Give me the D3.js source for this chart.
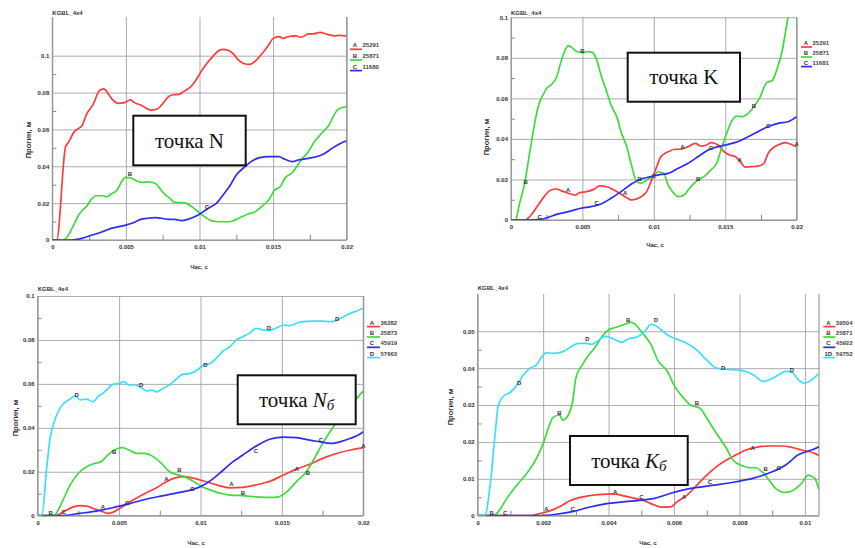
<!DOCTYPE html>
<html>
<head>
<meta charset="utf-8">
<script src="https://cdn.jsdelivr.net/npm/d3@7"></script>
<style>
body { margin: 0; background: #fff; }
svg text { font-family: "Liberation Sans", Arial, sans-serif; }
</style>
</head>
<body>
<svg id="chart" width="855" height="548"></svg>
<script>
// ---- data: [time, deflection] ----
const nA = [[0,0],[0.0003,0],[0.0009,0.0506],[0.0011,0.053],[0.0015,0.0588],[0.0018,0.0606],[0.002,0.0618],[0.0023,0.0678],[0.0028,0.074],[0.0032,0.081],[0.0035,0.082],[0.0037,0.0805],[0.004,0.077],[0.0045,0.0741],[0.0049,0.0745],[0.0053,0.076],[0.0056,0.0745],[0.0061,0.0729],[0.0065,0.071],[0.0067,0.0705],[0.0072,0.0714],[0.0075,0.074],[0.0079,0.0778],[0.0082,0.0788],[0.0086,0.079],[0.0089,0.0805],[0.0091,0.0814],[0.0095,0.084],[0.0099,0.0886],[0.0101,0.0913],[0.0105,0.0958],[0.0109,0.0995],[0.0113,0.1027],[0.0116,0.1034],[0.012,0.1027],[0.0123,0.101],[0.0126,0.098],[0.013,0.0958],[0.0134,0.0953],[0.0139,0.098],[0.0143,0.1016],[0.0147,0.1058],[0.015,0.1094],[0.0154,0.1103],[0.0157,0.1094],[0.016,0.1103],[0.0165,0.1108],[0.0169,0.11],[0.0174,0.1118],[0.0177,0.1118],[0.0182,0.1127],[0.0186,0.1118],[0.0192,0.1107],[0.0195,0.111],[0.02,0.1108]];
const nB = [[0,0],[0.00075,0],[0.0011,0.0027],[0.0014,0.0072],[0.0018,0.0136],[0.0021,0.0166],[0.0023,0.018],[0.0027,0.0226],[0.003,0.024],[0.0034,0.024],[0.0037,0.0235],[0.004,0.025],[0.0044,0.0271],[0.0047,0.0316],[0.005,0.034],[0.0054,0.0335],[0.0057,0.0322],[0.0061,0.0313],[0.0065,0.0315],[0.007,0.0307],[0.0073,0.028],[0.0077,0.0244],[0.008,0.0226],[0.0083,0.0204],[0.0088,0.0203],[0.0091,0.0199],[0.0095,0.018],[0.0099,0.0154],[0.0104,0.0123],[0.0108,0.0105],[0.0113,0.0099],[0.012,0.0099],[0.0124,0.0108],[0.0129,0.0127],[0.0133,0.0141],[0.0138,0.0154],[0.0142,0.018],[0.0147,0.0217],[0.0151,0.0271],[0.0155,0.029],[0.0158,0.0335],[0.0163,0.0365],[0.0166,0.0398],[0.0169,0.0434],[0.0174,0.0479],[0.0178,0.0533],[0.0183,0.0579],[0.0188,0.0624],[0.0192,0.0687],[0.0195,0.0714],[0.02,0.0723]];
const nC = [[0,0],[0.0013,0],[0.002,0.0009],[0.0027,0.0027],[0.0034,0.0045],[0.004,0.0063],[0.005,0.0081],[0.0055,0.0094],[0.006,0.0112],[0.0065,0.0118],[0.007,0.0121],[0.0074,0.0118],[0.0079,0.0112],[0.0083,0.0112],[0.0088,0.0105],[0.0092,0.0112],[0.0097,0.0127],[0.0101,0.0145],[0.0106,0.0172],[0.0112,0.0203],[0.0116,0.0244],[0.0121,0.0298],[0.0125,0.0353],[0.0131,0.0398],[0.0135,0.0425],[0.0141,0.0447],[0.0147,0.0452],[0.0154,0.0452],[0.0158,0.0438],[0.0163,0.0425],[0.0167,0.0434],[0.0174,0.0443],[0.0181,0.0456],[0.0185,0.047],[0.019,0.0497],[0.0195,0.0521],[0.02,0.0539]];

const kA = [[0,0],[0.001,0],[0.0013,0.0016],[0.0019,0.0074],[0.0024,0.0123],[0.0028,0.0148],[0.0032,0.0153],[0.0035,0.0145],[0.004,0.0132],[0.0045,0.0123],[0.0048,0.0135],[0.0053,0.014],[0.0058,0.0151],[0.0062,0.0168],[0.0067,0.0164],[0.0072,0.0148],[0.0076,0.0132],[0.0081,0.011],[0.0084,0.0099],[0.0088,0.0104],[0.0091,0.0115],[0.0095,0.014],[0.0098,0.0189],[0.0102,0.0263],[0.0105,0.0313],[0.011,0.0337],[0.0115,0.0349],[0.0119,0.0349],[0.0124,0.0362],[0.0129,0.0378],[0.0133,0.0365],[0.0137,0.037],[0.014,0.0382],[0.0145,0.037],[0.0149,0.0337],[0.0153,0.0321],[0.0157,0.0313],[0.0161,0.0283],[0.0164,0.026],[0.0168,0.0263],[0.0173,0.0266],[0.0177,0.028],[0.018,0.0329],[0.0184,0.0359],[0.0188,0.0373],[0.0192,0.0382],[0.0197,0.037],[0.02,0.0362]];
const kB = [[0,0],[0.0003,0],[0.0006,0.0082],[0.001,0.0197],[0.0013,0.0329],[0.0017,0.0493],[0.0019,0.0559],[0.0023,0.0625],[0.0025,0.065],[0.0028,0.0666],[0.0032,0.0707],[0.0035,0.0781],[0.0038,0.0839],[0.004,0.086],[0.0042,0.0855],[0.0046,0.0831],[0.0051,0.0826],[0.0054,0.0831],[0.0057,0.0827],[0.006,0.079],[0.0063,0.0715],[0.0067,0.0633],[0.007,0.0567],[0.0074,0.051],[0.0077,0.0436],[0.0081,0.0362],[0.0084,0.028],[0.0088,0.0189],[0.0091,0.0181],[0.0095,0.0197],[0.01,0.0219],[0.0103,0.0238],[0.0107,0.023],[0.011,0.0173],[0.0114,0.0132],[0.0117,0.0115],[0.0121,0.0123],[0.0124,0.0148],[0.0128,0.0181],[0.0131,0.0197],[0.0136,0.0219],[0.014,0.0247],[0.0144,0.028],[0.0147,0.0345],[0.0151,0.0428],[0.0155,0.0493],[0.0158,0.0513],[0.0162,0.051],[0.0166,0.0526],[0.017,0.0559],[0.0174,0.06],[0.0179,0.0678],[0.0183,0.0688],[0.0186,0.074],[0.019,0.0839],[0.0192,0.0921],[0.0194,0.1003],[0.0196,0.108]];
const kC = [[0,0],[0.0012,0],[0.0021,0.0003],[0.0026,0.0013],[0.0033,0.003],[0.004,0.0041],[0.0049,0.0058],[0.0056,0.0066],[0.0063,0.0079],[0.007,0.0107],[0.0077,0.014],[0.0084,0.0176],[0.0091,0.0202],[0.0098,0.0214],[0.0105,0.0225],[0.011,0.023],[0.0117,0.0255],[0.0124,0.028],[0.0131,0.0313],[0.0138,0.0345],[0.0145,0.0362],[0.0152,0.0373],[0.0159,0.0387],[0.0166,0.0411],[0.0173,0.0436],[0.018,0.0461],[0.0187,0.0477],[0.0194,0.0485],[0.02,0.051]];

const nbA = [[0,0],[0.0011,0],[0.0016,0.0018],[0.0021,0.0038],[0.0026,0.0046],[0.003,0.0044],[0.0035,0.003],[0.0039,0.0021],[0.0043,0.0011],[0.0046,0.0015],[0.0051,0.0036],[0.0055,0.0056],[0.0061,0.0082],[0.0067,0.0106],[0.0073,0.0127],[0.0079,0.0155],[0.0085,0.0173],[0.009,0.0178],[0.0096,0.017],[0.0102,0.0158],[0.011,0.014],[0.0118,0.0127],[0.0126,0.0129],[0.0134,0.014],[0.0143,0.0158],[0.0151,0.0185],[0.0159,0.0212],[0.0167,0.0234],[0.0175,0.0261],[0.0184,0.0284],[0.0192,0.0299],[0.02,0.031]];
const nbB = [[0,0],[0.001,0],[0.0012,0.0018],[0.0016,0.0079],[0.002,0.014],[0.0025,0.0193],[0.003,0.0223],[0.0035,0.0238],[0.0039,0.0246],[0.0043,0.0276],[0.0047,0.0299],[0.0052,0.031],[0.0056,0.0299],[0.0061,0.0284],[0.0066,0.0284],[0.0071,0.0269],[0.0076,0.0238],[0.0081,0.02],[0.0085,0.0188],[0.009,0.0178],[0.0096,0.0155],[0.0101,0.0132],[0.0106,0.0117],[0.0112,0.0102],[0.0118,0.0094],[0.0126,0.0091],[0.0134,0.0086],[0.0143,0.0083],[0.0148,0.0086],[0.0153,0.0109],[0.0159,0.0155],[0.0165,0.02],[0.017,0.0261],[0.0175,0.0329],[0.0181,0.0398],[0.0186,0.0451],[0.0192,0.0504],[0.0196,0.0534],[0.02,0.0568]];
const nbC = [[0,0],[0.0014,0],[0.0026,0.0011],[0.0036,0.0021],[0.0046,0.0036],[0.0057,0.0056],[0.0067,0.0076],[0.0077,0.0091],[0.0087,0.0106],[0.0096,0.0121],[0.0102,0.014],[0.0108,0.017],[0.0114,0.0208],[0.012,0.0246],[0.0126,0.0276],[0.0132,0.0307],[0.0139,0.0337],[0.0143,0.0349],[0.0151,0.0358],[0.0159,0.0355],[0.0167,0.0344],[0.0173,0.0337],[0.018,0.0329],[0.0186,0.0337],[0.0192,0.0352],[0.0197,0.0367],[0.02,0.0382]];
const nbD = [[0,0],[0.00025,0],[0.00055,0.0215],[0.00076,0.0352],[0.00096,0.0413],[0.0013,0.0481],[0.0016,0.0511],[0.002,0.0531],[0.0023,0.0546],[0.0026,0.0527],[0.003,0.0531],[0.0034,0.0519],[0.0037,0.0542],[0.004,0.0557],[0.0043,0.0577],[0.0046,0.0598],[0.005,0.0602],[0.0053,0.061],[0.0056,0.0595],[0.006,0.0595],[0.0064,0.058],[0.0067,0.0568],[0.007,0.0572],[0.0073,0.0564],[0.0077,0.058],[0.0081,0.0595],[0.0085,0.0621],[0.0089,0.0643],[0.0094,0.0648],[0.0098,0.0663],[0.0102,0.0686],[0.0106,0.0693],[0.011,0.0719],[0.0114,0.075],[0.0118,0.0769],[0.0122,0.08],[0.0126,0.0815],[0.013,0.083],[0.0134,0.0853],[0.0139,0.0845],[0.0143,0.0845],[0.0147,0.0856],[0.0151,0.0868],[0.0155,0.0865],[0.0159,0.0876],[0.0163,0.0883],[0.0169,0.0886],[0.0175,0.0886],[0.018,0.0883],[0.0184,0.0891],[0.0188,0.0906],[0.0192,0.0921],[0.0196,0.0932],[0.02,0.0944]];

const kbA = [[0,0],[0.0016,0],[0.0019,0.0006],[0.0022,0.0013],[0.0025,0.0024],[0.0028,0.004],[0.0031,0.0049],[0.0034,0.0054],[0.0038,0.0058],[0.0041,0.0059],[0.0045,0.0053],[0.0048,0.0047],[0.0051,0.004],[0.0054,0.0029],[0.0056,0.0023],[0.0059,0.0024],[0.0061,0.0038],[0.0064,0.0056],[0.0067,0.0083],[0.007,0.011],[0.0073,0.0133],[0.0076,0.0151],[0.0079,0.0165],[0.0082,0.0178],[0.0085,0.0185],[0.0089,0.0189],[0.0093,0.0189],[0.0096,0.0185],[0.0099,0.0178],[0.0103,0.0169],[0.01043,0.0163]];
const kbB = [[0,0],[0.00048,0],[0.00063,0.0011],[0.00089,0.0047],[0.0012,0.0083],[0.0015,0.0115],[0.0018,0.0156],[0.002,0.0196],[0.00216,0.0237],[0.0023,0.0266],[0.0025,0.0273],[0.0026,0.0259],[0.0027,0.0264],[0.0029,0.0309],[0.003,0.0373],[0.0032,0.0409],[0.0034,0.0436],[0.0036,0.0458],[0.0038,0.0486],[0.004,0.0504],[0.0042,0.051],[0.0045,0.0519],[0.0047,0.0524],[0.0048,0.052],[0.005,0.0499],[0.0053,0.0463],[0.0055,0.0422],[0.0058,0.0391],[0.006,0.0354],[0.0063,0.0318],[0.0065,0.03],[0.0068,0.0291],[0.007,0.0264],[0.0073,0.0223],[0.0076,0.0183],[0.0078,0.0151],[0.0081,0.0135],[0.0083,0.013],[0.0085,0.013],[0.0087,0.0118],[0.0089,0.0097],[0.0091,0.0074],[0.0094,0.0063],[0.0096,0.0067],[0.0099,0.0088],[0.0101,0.011],[0.0103,0.0101],[0.01043,0.007]];
const kbC = [[0,0],[0.0018,0],[0.0024,0.0004],[0.0029,0.0011],[0.0034,0.0023],[0.0039,0.0032],[0.0045,0.0038],[0.005,0.0042],[0.0054,0.0047],[0.0059,0.0061],[0.0064,0.0072],[0.0069,0.0079],[0.0074,0.0085],[0.0079,0.0092],[0.0084,0.0101],[0.0087,0.0109],[0.009,0.0119],[0.0094,0.0137],[0.0098,0.0165],[0.0102,0.0178],[0.01043,0.0187]];
const kbD = [[0,0],[0.00022,0],[0.00038,0.0083],[0.00053,0.0219],[0.00063,0.03],[0.00078,0.0323],[0.00099,0.0334],[0.0012,0.0354],[0.0014,0.0382],[0.0016,0.04],[0.0018,0.0409],[0.00196,0.0431],[0.0021,0.0442],[0.0023,0.044],[0.0025,0.0442],[0.0027,0.0449],[0.0029,0.0461],[0.0031,0.0467],[0.0033,0.0467],[0.0035,0.0465],[0.0037,0.0476],[0.0039,0.0486],[0.0041,0.0481],[0.0044,0.047],[0.0046,0.0479],[0.0049,0.0486],[0.0051,0.0499],[0.0053,0.0519],[0.0054,0.0517],[0.0056,0.0504],[0.0058,0.049],[0.0061,0.0478],[0.0064,0.0467],[0.0067,0.0449],[0.007,0.0422],[0.0073,0.04],[0.0076,0.0397],[0.0079,0.0395],[0.0082,0.0391],[0.0085,0.0377],[0.0087,0.0364],[0.0089,0.0368],[0.0092,0.0382],[0.0094,0.0391],[0.0096,0.0389],[0.0098,0.0368],[0.01,0.0359],[0.0102,0.0368],[0.01043,0.0386]];

// letters written along the curves: [letter, time, deflection]
const nMarks = [["B",0.00528,0.0358],["C",0.0105,0.0177]];
const kMarks = [["B",0.00103,0.0189],["C",0.002,0.0016],["A",0.004,0.0148],["B",0.005,0.0836],["C",0.006,0.0086],["A",0.008,0.0132],["B",0.009,0.0201],["C",0.01,0.0217],["A",0.012,0.0359],["B",0.0131,0.0202],["C",0.014,0.0357],["A",0.016,0.0296],["B",0.017,0.0564],["C",0.018,0.0465],["A",0.02,0.0373]];
const nbMarks = [["B",0.0008,0.0014],["C",0.0016,0.0017],["D",0.0024,0.0552],["A",0.004,0.0041],["B",0.0047,0.0291],["C",0.0055,0.0059],["D",0.00635,0.0595],["A",0.0079,0.0167],["B",0.0087,0.0208],["C",0.0095,0.012],["D",0.0103,0.0686],["A",0.0119,0.0143],["B",0.0126,0.0106],["C",0.0134,0.0296],["D",0.0142,0.0853],["A",0.0159,0.0215],["B",0.0166,0.0197],["C",0.0174,0.0344],["D",0.0184,0.0898],["A",0.02,0.0319]];
const kbMarks = [["B",0.00043,0.0008],["C",0.00084,0.0008],["D",0.00127,0.0359],["A",0.0021,0.0018],["B",0.0025,0.0278],["C",0.0029,0.0018],["D",0.00335,0.0478],["A",0.0042,0.0065],["B",0.0046,0.0531],["C",0.005,0.005],["D",0.00545,0.0531],["A",0.0063,0.0052],["B",0.0067,0.0306],["C",0.0071,0.0092],["D",0.0075,0.0402],["A",0.0084,0.0185],["B",0.0088,0.0127],["C",0.0092,0.013],["D",0.0096,0.0395]];

const nLegend = ["25291", "25871", "11680"];
const kLegend = ["25291", "25871", "11681"];
const nbLegend = ["36282", "25873", "45919", "57663"];
const kbLegend = ["39504", "25871", "45922", "59752"];
const keys = ["A", "B", "C", "D"];
const kbKeys = ["A", "B", "C", "1D"];

const xTicks20 = [0, 0.005, 0.01, 0.015, 0.02];
const xLabels20 = ["0", "0.005", "0.01", "0.015", "0.02"];
const xTicks10 = [0, 0.002, 0.004, 0.006, 0.008, 0.01];
const xLabels10 = ["0", "0.002", "0.004", "0.006", "0.008", "0.01"];
const yTicks10 = [0, 0.02, 0.04, 0.06, 0.08, 0.1];
const yLabels10 = ["0", "0.02", "0.04", "0.06", "0.08", "0.1"];
const yTicks05 = [0, 0.01, 0.02, 0.03, 0.04, 0.05];
const yLabels05 = ["0", "0.01", "0.02", "0.03", "0.04", "0.05"];

const colors = ["#ff3b3b", "#3ddc3d", "#2d2df2", "#3fdcff"];

const svg = d3.select("#chart");

const panels = [
	{ id: "n", left: 52.3, right: 346.7, top: 17, bottom: 240, xMax: 0.02, yMax: 0.121,
	  xTicks: xTicks20, xLabels: xLabels20, yTicks: yTicks10, yLabels: yLabels10,
	  series: [nA, nB, nC], marks: nMarks, legend: nLegend, keys: keys,
	  titleY: 13, xTitle: [199, 267], yTitle: [28, 140],
	  legX: 350, legY: [45, 55.7, 66.3], legW: 12,
	  box: [133.3, 115.7, 112.4, 49.6], point: "N", italic: false },
	{ id: "k", left: 511, right: 796.7, top: 17.3, bottom: 220, xMax: 0.02, yMax: 0.1,
	  xTicks: xTicks20, xLabels: xLabels20, yTicks: yTicks10, yLabels: yLabels10,
	  series: [kA, kB, kC], marks: kMarks, legend: kLegend, keys: keys,
	  titleY: 12.7, xTitle: [655, 245], yTitle: [486.7, 137],
	  legX: 801, legY: [42.7, 52.7, 62.3], legW: 11,
	  box: [627.7, 52.7, 112.3, 49], point: "K", italic: false },
	{ id: "nb", left: 37.7, right: 363.3, top: 296, bottom: 515.7, xMax: 0.02, yMax: 0.1,
	  xTicks: xTicks20, xLabels: xLabels20, yTicks: yTicks10, yLabels: yLabels10,
	  series: [nbA, nbB, nbC, nbD], marks: nbMarks, legend: nbLegend, keys: keys,
	  titleY: 289.3, xTitle: [196, 543.3], yTitle: [15, 418],
	  legX: 367, legY: [322.3, 332.7, 343, 353.3], legW: 13,
	  box: [237.7, 375.3, 118, 49], point: "N", italic: true },
	{ id: "kb", left: 477.7, right: 819, top: 294, bottom: 515.7, xMax: 0.01043, yMax: 0.0601,
	  xTicks: xTicks10, xLabels: xLabels10, yTicks: yTicks05, yLabels: yLabels05,
	  series: [kbA, kbB, kbC, kbD], marks: kbMarks, legend: kbLegend, keys: kbKeys,
	  titleY: 288.3, xTitle: [648, 543.3], yTitle: [450, 407],
	  legX: 823.3, legY: [322.3, 332.7, 343, 353.3], legW: 12,
	  box: [570, 436, 117.7, 49], point: "K", italic: true }
];

function mids(arr) {
	return d3.pairs(arr).map(p => (p[0] + p[1]) / 2);
}

function drawPanel(p) {
	const g = svg.append("g").attr("class", "panel-" + p.id);
	const x = d3.scaleLinear().domain([0, p.xMax]).range([p.left, p.right]);
	const y = d3.scaleLinear().domain([0, p.yMax]).range([p.bottom, p.top]);
	const w = p.right - p.left, h = p.bottom - p.top;

	// grid lines
	g.append("g")
		.attr("transform", "translate(0," + p.bottom + ")")
		.call(d3.axisBottom(x).tickValues(p.xTicks).tickSize(-h).tickFormat(""))
		.call(s => s.select(".domain").remove())
		.selectAll("line").attr("stroke", "#a3a3a3").attr("stroke-width", 0.9);
	g.append("g")
		.attr("transform", "translate(" + p.left + ",0)")
		.call(d3.axisLeft(y).tickValues(p.yTicks).tickSize(-w).tickFormat(""))
		.call(s => s.select(".domain").remove())
		.selectAll("line").attr("stroke", "#a3a3a3").attr("stroke-width", 0.9);

	// minor ticks
	g.append("g")
		.attr("transform", "translate(0," + p.bottom + ")")
		.call(d3.axisBottom(x).tickValues(mids(p.xTicks)).tickSize(-5).tickFormat(""))
		.call(s => s.select(".domain").remove())
		.selectAll("line").attr("stroke", "#888");
	g.append("g")
		.attr("transform", "translate(" + p.left + ",0)")
		.call(d3.axisLeft(y).tickValues(mids(p.yTicks)).tickSize(-4).tickFormat(""))
		.call(s => s.select(".domain").remove())
		.selectAll("line").attr("stroke", "#888");

	// frame: left, bottom and right edge
	g.append("path")
		.attr("d", "M" + p.left + "," + p.top + "V" + p.bottom + "H" + p.right + "V" + p.top)
		.attr("fill", "none").attr("stroke", "#8a8a8a").attr("stroke-width", 1);

	// tick labels
	const xa = g.append("g")
		.attr("transform", "translate(0," + p.bottom + ")")
		.call(d3.axisBottom(x).tickValues(p.xTicks).tickSize(0).tickPadding(5)
			.tickFormat((d, i) => p.xLabels[i]));
	xa.select(".domain").remove();
	const ya = g.append("g")
		.attr("transform", "translate(" + p.left + ",0)")
		.call(d3.axisLeft(y).tickValues(p.yTicks).tickSize(0).tickPadding(3)
			.tickFormat((d, i) => p.yLabels[i]));
	ya.select(".domain").remove();
	g.selectAll(".tick text")
		.attr("font-family", "Liberation Sans, Arial, sans-serif")
		.attr("font-size", 6).attr("font-weight", "bold").attr("fill", "#333");

	// series
	const clipId = "clip-" + p.id;
	g.append("clipPath").attr("id", clipId)
		.append("rect").attr("x", p.left).attr("y", p.top).attr("width", w).attr("height", h);
	const line = d3.line()
		.x(d => x(d[0]))
		.y(d => y(d[1]))
		.curve(d3.curveMonotoneX);
	g.append("g").attr("clip-path", "url(#" + clipId + ")")
		.selectAll("path")
		.data(p.series)
		.enter().append("path")
		.attr("d", line)
		.attr("fill", "none")
		.attr("stroke", (d, i) => colors[i])
		.attr("stroke-width", 1.7)
		.attr("stroke-linejoin", "round");

	// letters on curves
	g.append("g").selectAll("text")
		.data(p.marks)
		.enter().append("text")
		.attr("x", d => x(d[1]))
		.attr("y", d => y(d[2]))
		.attr("dy", "0.35em")
		.attr("text-anchor", "middle")
		.attr("font-size", 6).attr("font-weight", "bold").attr("fill", "#333")
		.text(d => d[0]);

	// legend
	const leg = g.append("g").selectAll("g")
		.data(p.legend)
		.enter().append("g")
		.attr("transform", (d, i) => "translate(" + p.legX + "," + p.legY[i] + ")");
	leg.append("line")
		.attr("x1", 0).attr("x2", p.legW).attr("y1", 4.3).attr("y2", 4.3)
		.attr("stroke", (d, i) => colors[i]).attr("stroke-width", 1.7);
	leg.append("text")
		.attr("x", 5).attr("y", 2.3).attr("text-anchor", "middle")
		.attr("font-size", 6).attr("font-weight", "bold").attr("fill", "#333")
		.text((d, i) => p.keys[i]);
	leg.append("text")
		.attr("x", p.legW + 0.5).attr("y", 2.3)
		.attr("font-size", 6).attr("font-weight", "bold").attr("fill", "#444")
		.text(d => d);

	// titles
	g.append("text").attr("x", p.left).attr("y", p.titleY + 2)
		.attr("font-size", 6).attr("font-weight", "bold").attr("fill", "#333")
		.text("KGBL_4x4");
	g.append("text").attr("x", p.xTitle[0]).attr("y", p.xTitle[1] + 2)
		.attr("text-anchor", "middle")
		.attr("font-size", 6).attr("font-weight", "bold").attr("fill", "#333")
		.text("Час, с");
	g.append("text")
		.attr("transform", "translate(" + (p.yTitle[0] + 2.5) + "," + p.yTitle[1] + ") rotate(-90)")
		.attr("text-anchor", "middle")
		.attr("font-size", 7.5).attr("font-weight", "bold").attr("fill", "#333")
		.text("Прогин, м");

	// label box
	const b = p.box;
	g.append("rect")
		.attr("x", b[0]).attr("y", b[1]).attr("width", b[2]).attr("height", b[3])
		.attr("fill", "#fff").attr("stroke", "#111").attr("stroke-width", 2);
	const t = g.append("text")
		.attr("x", b[0] + b[2] / 2).attr("y", b[1] + b[3] / 2 + 7)
		.attr("text-anchor", "middle")
		.style("font-family", "'Liberation Serif', 'Times New Roman', serif")
		.attr("font-size", 21).attr("fill", "#111");
	t.append("tspan").text("точка ");
	if (p.italic) {
		t.append("tspan").attr("font-style", "italic").text(p.point);
		t.append("tspan").attr("font-style", "italic").attr("font-size", 15).attr("dy", 3).text("б");
	} else {
		t.append("tspan").text(p.point);
	}
}

panels.forEach(drawPanel);
</script>
</body>
</html>
